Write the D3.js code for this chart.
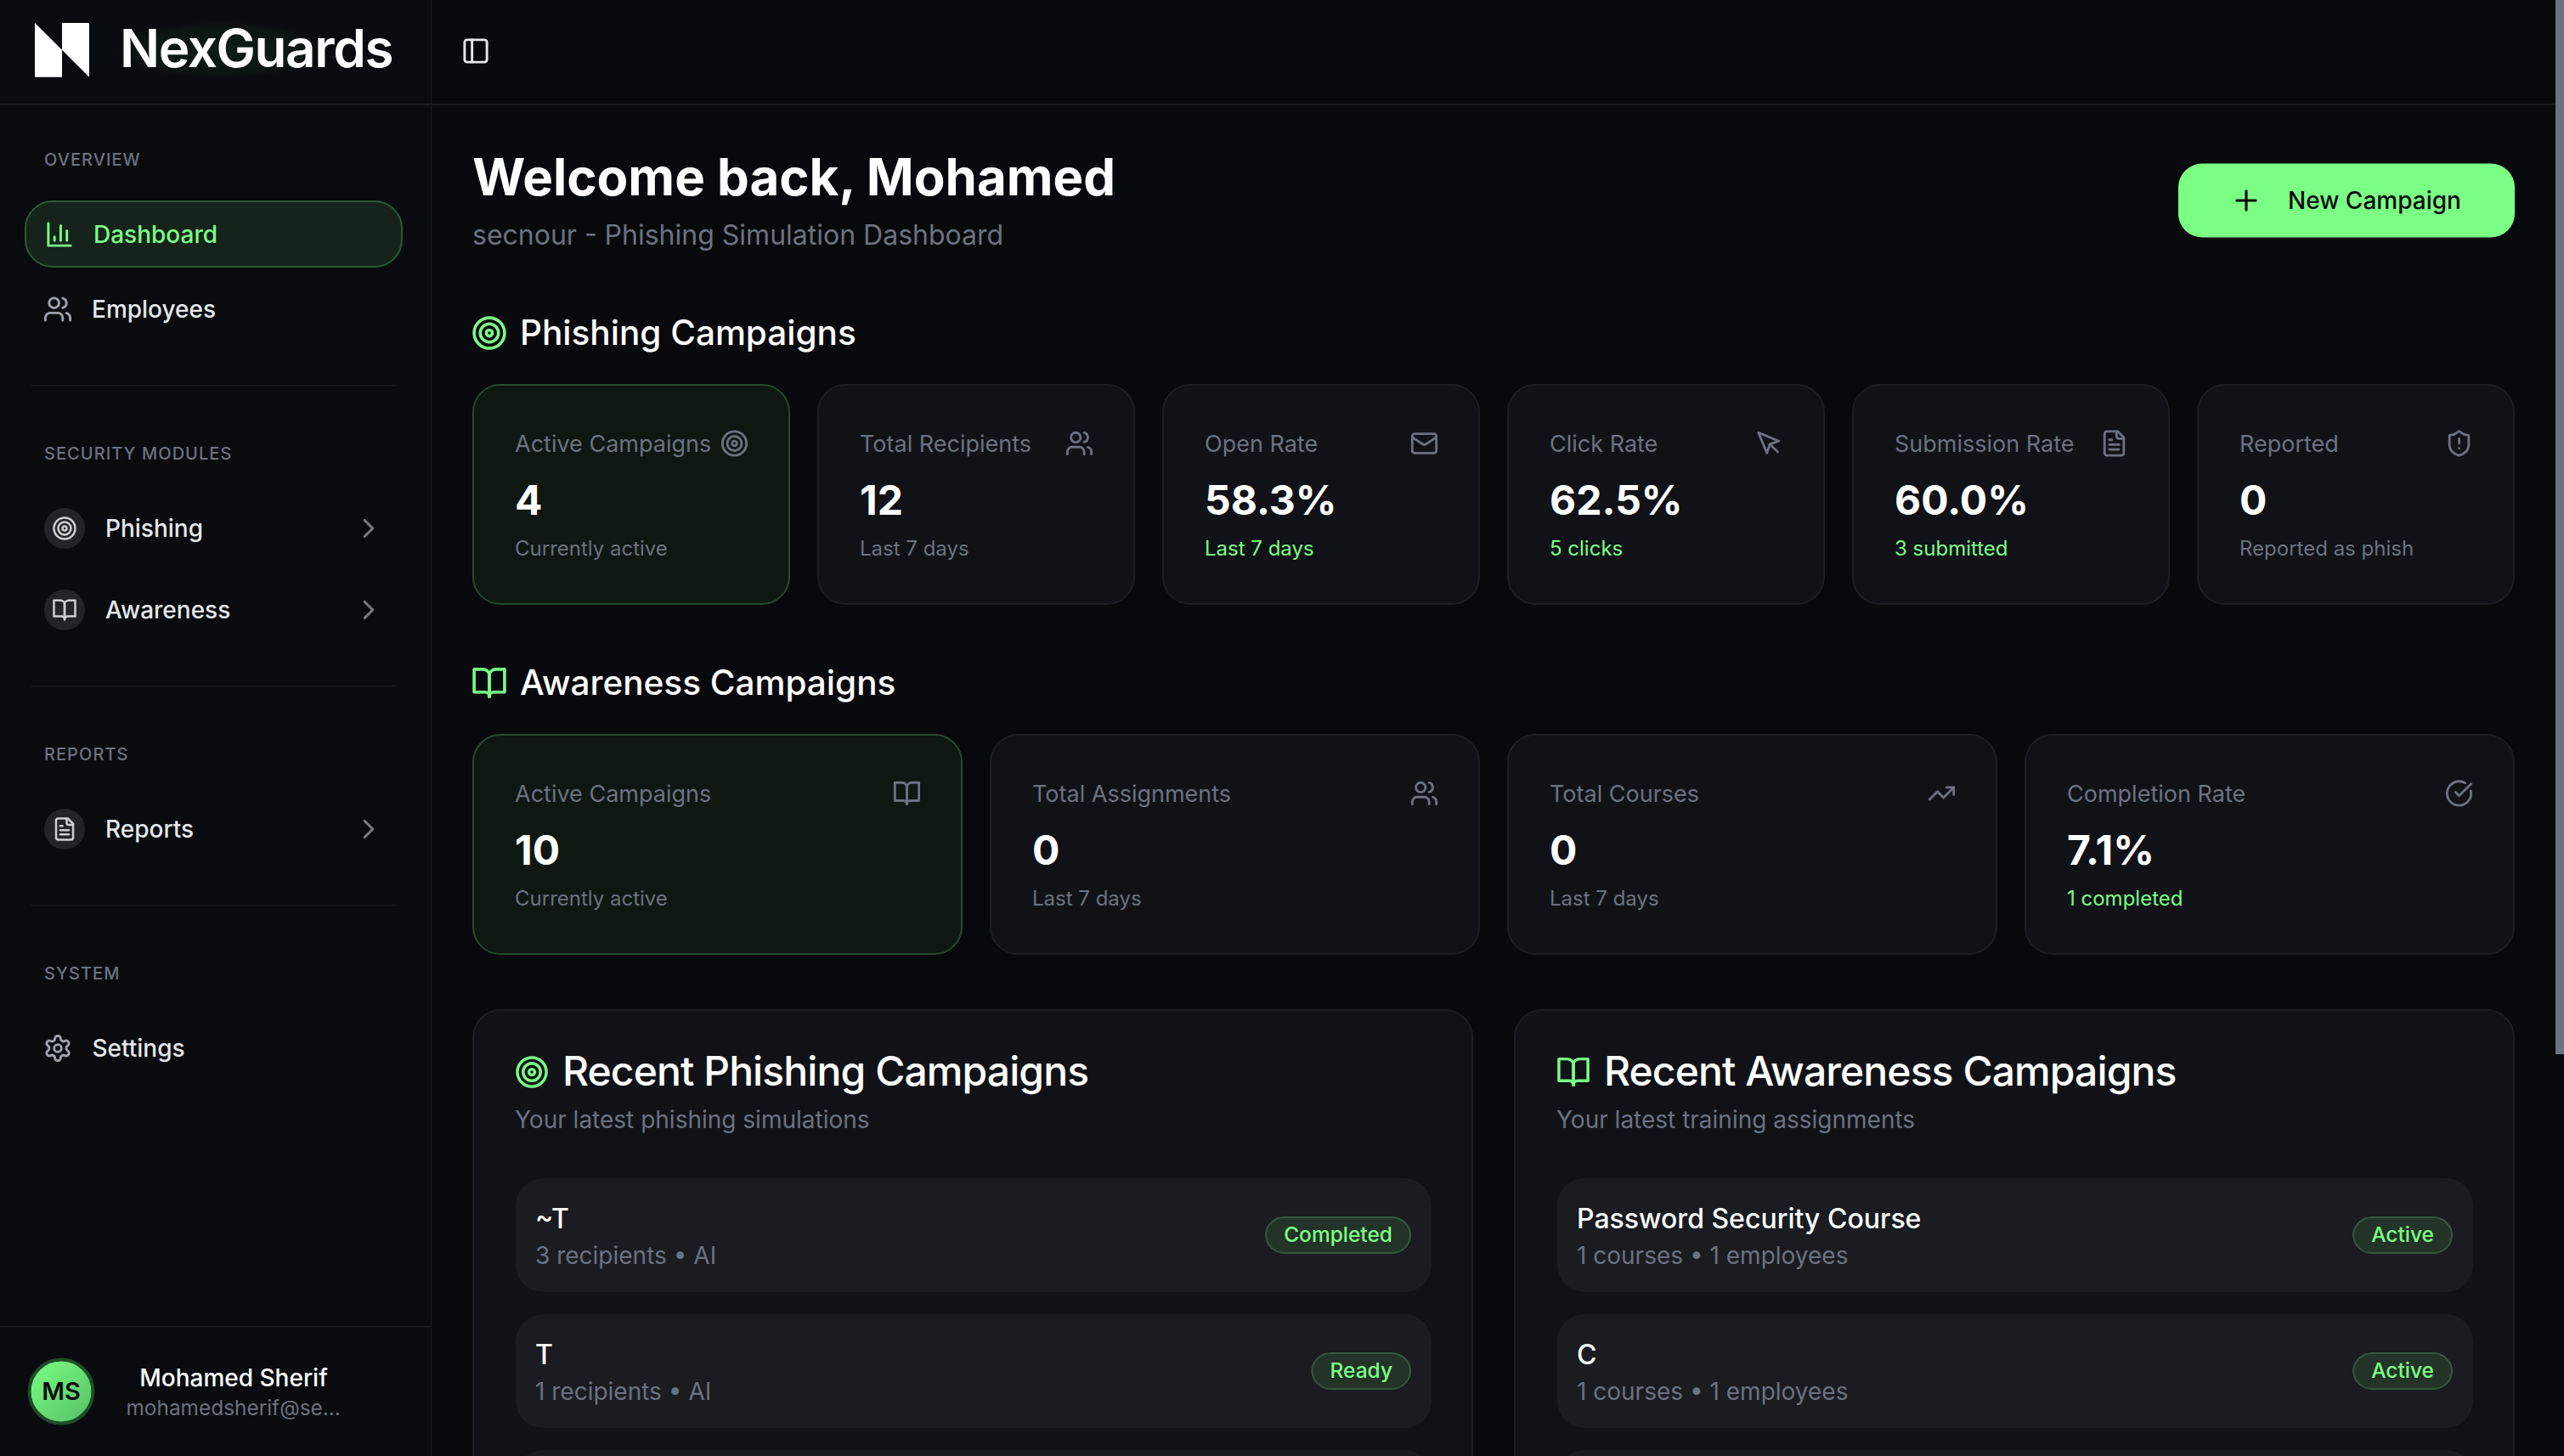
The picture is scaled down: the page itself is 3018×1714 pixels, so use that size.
<!DOCTYPE html>
<html><head><meta charset="utf-8">
<script src="https://cdn.jsdelivr.net/npm/d3@7/dist/d3.min.js"></script>
<style>
html,body{margin:0;padding:0;background:#08090c;overflow:hidden}
svg{display:block}
text{font-family:Inter,"Noto Sans",sans-serif}
</style></head><body>
<svg id="c" width="3018" height="1714" viewBox="0 0 3018 1714"></svg>
<script>
// ---------- data ----------
const phishingLabels = ["Active Campaigns","Total Recipients","Open Rate","Click Rate","Submission Rate","Reported"];
const phishingValues = ["4","12","58.3%","62.5%","60.0%","0"];
const phishingNotes  = ["Currently active","Last 7 days","Last 7 days","5 clicks","3 submitted","Reported as phish"];
const phishingIcons  = ["target","users","mail","pointer","file","shield"];
const phishingNoteGreen = [false,false,true,true,true,false];

const awarenessLabels = ["Active Campaigns","Total Assignments","Total Courses","Completion Rate"];
const awarenessValues = ["10","0","0","7.1%"];
const awarenessNotes  = ["Currently active","Last 7 days","Last 7 days","1 completed"];
const awarenessIcons  = ["book","users","trend","check"];
const awarenessNoteGreen = [false,false,false,true];

const recentPhishingNames = ["~T","T"];
const recentPhishingMeta  = ["3 recipients • AI","1 recipients • AI"];
const recentPhishingState = ["Completed","Ready"];
const recentAwarenessNames = ["Password Security Course","C"];
const recentAwarenessMeta  = ["1 courses • 1 employees","1 courses • 1 employees"];
const recentAwarenessState = ["Active","Active"];

// ---------- palette ----------
const GREEN="#7bff85", MUTED="#6b7280", NAV="#e5e7eb", WHITE="#ffffff";
const BORDER="#1a1c21", CARD="#101217", CARD_B="#1c1e24", ROW="#1a1c21";

// ---------- icons (24-unit outlines) ----------
const ICONS={
 target:[["c",12,12,10],["c",12,12,6],["c",12,12,2]],
 users:[["p","M16 21v-2a4 4 0 0 0-4-4H6a4 4 0 0 0-4 4v2"],["c",9,7,4],["p","M22 21v-2a4 4 0 0 0-3-3.87"],["p","M16 3.13a4 4 0 0 1 0 7.75"]],
 mail:[["r",2,4,20,16,2],["p","m22 7-8.97 5.7a1.94 1.94 0 0 1-2.06 0L2 7"]],
 pointer:[["p","m3 3 7.07 16.97 2.51-7.39 7.39-2.51L3 3z"],["p","m13 13 6 6"]],
 file:[["p","M15 2H6a2 2 0 0 0-2 2v16a2 2 0 0 0 2 2h12a2 2 0 0 0 2-2V7Z"],["p","M14 2v4a2 2 0 0 0 2 2h4"],["p","M10 9H8"],["p","M16 13H8"],["p","M16 17H8"]],
 shield:[["p","M20 13c0 5-3.5 7.5-7.66 8.95a1 1 0 0 1-.67-.01C7.5 20.5 4 18 4 13V6a1 1 0 0 1 1-1c2 0 4.5-1.2 6.24-2.72a1.17 1.17 0 0 1 1.52 0C14.51 3.81 17 5 19 5a1 1 0 0 1 1 1z"],["p","M12 8v4"],["p","M12 16h.01"]],
 book:[["p","M2 3h6a4 4 0 0 1 4 4v14a3 3 0 0 0-3-3H2z"],["p","M22 3h-6a4 4 0 0 0-4 4v14a3 3 0 0 1 3-3h7z"]],
 trend:[["p","m22 7-8.5 8.5-5-5L2 17"],["p","M16 7h6v6"]],
 check:[["p","M21.801 10A10 10 0 1 1 17 3.335"],["p","m9 11 3 3L22 4"]],
 chart:[["p","M3 3v18h18"],["p","M18 17V9"],["p","M13 17V5"],["p","M8 17v-3"]],
 settings:[["p","M12.22 2h-.44a2 2 0 0 0-2 2v.18a2 2 0 0 1-1 1.73l-.43.25a2 2 0 0 1-2 0l-.15-.08a2 2 0 0 0-2.73.73l-.22.38a2 2 0 0 0 .73 2.73l.15.1a2 2 0 0 1 1 1.72v.51a2 2 0 0 1-1 1.74l-.15.09a2 2 0 0 0-.73 2.73l.22.38a2 2 0 0 0 2.73.73l.15-.08a2 2 0 0 1 2 0l.43.25a2 2 0 0 1 1 1.73V20a2 2 0 0 0 2 2h.44a2 2 0 0 0 2-2v-.18a2 2 0 0 1 1-1.73l.43-.25a2 2 0 0 1 2 0l.15.08a2 2 0 0 0 2.73-.73l.22-.39a2 2 0 0 0-.73-2.73l-.15-.08a2 2 0 0 1-1-1.74v-.5a2 2 0 0 1 1-1.74l.15-.09a2 2 0 0 0 .73-2.73l-.22-.38a2 2 0 0 0-2.73-.73l-.15.08a2 2 0 0 1-2 0l-.43-.25a2 2 0 0 1-1-1.73V4a2 2 0 0 0-2-2z"],["c",12,12,3]],
 chevron:[["p","m9 18 6-6-6-6"]],
 plus:[["p","M5 12h14"],["p","M12 5v14"]],
 panel:[["r",3,3,18,18,2],["p","M9 3v18"]]
};
const svg=d3.select("#c");
function icon(parent,name,cx,cy,size,color,sw=2){
  const s=size/24;
  const g=parent.append("g").attr("transform",`translate(${cx-size/2},${cy-size/2}) scale(${s})`)
    .attr("fill","none").attr("stroke",color).attr("stroke-width",sw)
    .attr("stroke-linecap","round").attr("stroke-linejoin","round");
  ICONS[name].forEach(d=>{
    if(d[0]==="c") g.append("circle").attr("cx",d[1]).attr("cy",d[2]).attr("r",d[3]);
    else if(d[0]==="r") g.append("rect").attr("x",d[1]).attr("y",d[2]).attr("width",d[3]).attr("height",d[4]).attr("rx",d[5]);
    else g.append("path").attr("d",d[1]);
  });
}
function txt(parent,s,x,y,size,weight,color,extra={}){
  const t=parent.append("text").attr("x",x).attr("y",y).attr("font-size",size).attr("font-weight",weight).attr("fill",color).text(s);
  if(extra.ls!==undefined) t.attr("letter-spacing",extra.ls);
  if(extra.anchor) t.attr("text-anchor",extra.anchor);
  return t;
}
function box(parent,x,y,w,h,r,fill,stroke,sw=2){
  return parent.append("rect").attr("x",x+sw/2).attr("y",y+sw/2).attr("width",w-sw).attr("height",h-sw).attr("rx",r)
    .attr("fill",fill).attr("stroke",stroke||"none").attr("stroke-width",stroke?sw:0);
}

// ---------- defs ----------
const defs=svg.append("defs");
const avatarGrad=defs.append("linearGradient").attr("id","avatarGrad").attr("x1",0).attr("y1",0).attr("x2",1).attr("y2",1);
avatarGrad.append("stop").attr("offset",0).attr("stop-color","#7bff85");
avatarGrad.append("stop").attr("offset",1).attr("stop-color","#55bf63");
const glow=defs.append("radialGradient").attr("id","glow");
glow.append("stop").attr("offset",0).attr("stop-color","#10251a").attr("stop-opacity",.75);
glow.append("stop").attr("offset",.75).attr("stop-color","#0f1f15").attr("stop-opacity",.5);
glow.append("stop").attr("offset",1).attr("stop-color","#0a0c0e").attr("stop-opacity",0);

// ---------- page frame ----------
svg.append("rect").attr("width",3018).attr("height",1714).attr("fill","#08090c");
svg.append("rect").attr("width",507).attr("height",1714).attr("fill","#090b0e");
svg.append("rect").attr("x",507).attr("width",1).attr("height",1714).attr("fill",BORDER);
svg.append("rect").attr("y",122).attr("width",3008).attr("height",2).attr("fill",BORDER);
svg.append("rect").attr("x",3008).attr("width",10).attr("height",1241).attr("fill","#6b7280");

// ---------- brand ----------
svg.append("ellipse").attr("cx",260).attr("cy",59).attr("rx",135).attr("ry",37).attr("fill","url(#glow)");
svg.append("path").attr("d","M41 27L73 58.8V90.7H41Z M73 27H105V90.7L73 58.8Z").attr("fill",WHITE);
txt(svg,"NexGuards",141,79,62,600,WHITE,{ls:-1.4});
icon(svg,"panel",560,60,35,NAV);

// ---------- sidebar ----------
const navText=(s,x,base,color=NAV)=>txt(svg,s,x,base,28,500,color);
const secText=(s,base)=>txt(svg,s,52,base,20,500,MUTED,{ls:1.05});
secText("OVERVIEW",195);
box(svg,29,236,445,79,32,"#16231b","#2b5a34",2);
icon(svg,"chart",70,276,35,GREEN);
navText("Dashboard",110,286,GREEN);
icon(svg,"users",68,364,35,"#9ca3af");
navText("Employees",108,374);
const divider=y=>svg.append("rect").attr("x",36).attr("y",y).attr("width",430).attr("height",1.5).attr("fill","#15171b");
divider(453);
secText("SECURITY MODULES",541);
[["Phishing","target",622],["Awareness","book",718],["Reports","file",976]].forEach(([s,ic,y])=>{
  svg.append("circle").attr("cx",76).attr("cy",y).attr("r",24).attr("fill","#232427");
  icon(svg,ic,76,y,30,"#cfcfcf");
  navText(s,124,y+10);
  icon(svg,"chevron",434,y,38,"#7a7a7a");
});
divider(807);
secText("REPORTS",895);
divider(1065);
secText("SYSTEM",1153);
icon(svg,"settings",68,1234,35,"#9ca3af");
navText("Settings",108.5,1244);
svg.append("rect").attr("y",1561).attr("width",507).attr("height",1.5).attr("fill",BORDER);
svg.append("circle").attr("cx",72).attr("cy",1638).attr("r",37.5).attr("fill","url(#avatarGrad)").attr("stroke","#1f4a28").attr("stroke-width",4);
txt(svg,"MS",72,1648,29,600,"#0a0b0e",{anchor:"middle"});
txt(svg,"Mohamed Sherif",275,1632,28,500,WHITE,{anchor:"middle"});
txt(svg,"mohamedsherif@se...",148.5,1666,24.4,400,MUTED);

// ---------- header ----------
txt(svg,"Welcome back, Mohamed",556,230,60,700,WHITE);
txt(svg,"secnour - Phishing Simulation Dashboard",556,288,32,400,MUTED);
box(svg,2563,191.5,398,89,28,GREEN);
icon(svg,"plus",2644,236,38,"#0a0b0e");
txt(svg,"New Campaign",2693,246,28,500,"#0a0b0e");

// ---------- KPI rows ----------
function kpiRow(top,labels,values,notes,icons,green){
  const n=labels.length, x=d3.scaleBand().domain(d3.range(n)).range([556,2960]).paddingInner(32*n/2436).paddingOuter(0);
  const g=svg.append("g");
  labels.forEach((l,i)=>{
    const X=x(i), W=x.bandwidth(), active=i===0;
    box(g,X,top,W,260,32,active?"#0e1712":CARD,active?"#254a2c":CARD_B,2);
    txt(g,l,X+50,top+80,27,400,MUTED);
    icon(g,icons[i],X+W-65.5,top+70,34,MUTED);
    txt(g,values[i],X+50,top+154,48,700,WHITE);
    txt(g,notes[i],X+50,top+202,24,400,green[i]?GREEN:MUTED);
  });
}
icon(svg,"target",576,392,43,GREEN);
txt(svg,"Phishing Campaigns",612,406,40.5,500,WHITE);
kpiRow(452,phishingLabels,phishingValues,phishingNotes,phishingIcons,phishingNoteGreen);
icon(svg,"book",576,804,43,GREEN);
txt(svg,"Awareness Campaigns",612,818,40.5,500,WHITE);
kpiRow(864,awarenessLabels,awarenessValues,awarenessNotes,awarenessIcons,awarenessNoteGreen);

// ---------- recent panels ----------
function panel(px,ic,title,sub,names,meta,state){
  const W=1178, g=svg.append("g");
  box(g,px,1188,W,600,32,CARD,CARD_B,2);
  icon(g,ic,px+70,1262,41,GREEN);
  txt(g,title,px+106,1278,48,500,WHITE,{ls:-.9});
  txt(g,sub,px+50,1327.5,28,400,MUTED);
  const y=d3.scaleBand().domain(d3.range(3)).range([1386,1386+160*3-24]).paddingInner(24/160).paddingOuter(0);
  [0,1,2].forEach(i=>{
    box(g,px+50,y(i),W-98,y.bandwidth(),32,ROW);
    if(i>=names.length) return;
    txt(g,names[i],px+74,y(i)+60,32,500,WHITE);
    txt(g,meta[i],px+74,y(i)+102,28,400,MUTED);
    const t=txt(g,state[i],0,y(i)+76,24.5,500,GREEN,{anchor:"middle"});
    const tw=t.node().getComputedTextLength(), bw=tw+44, right=px+W-73;
    box(g,right-bw,y(i)+46,bw,44,22,"#243328","#35593c",2);
    t.attr("x",right-bw/2).raise();
  });
}
panel(556,"target","Recent Phishing Campaigns","Your latest phishing simulations",recentPhishingNames,recentPhishingMeta,recentPhishingState);
panel(1782,"book","Recent Awareness Campaigns","Your latest training assignments",recentAwarenessNames,recentAwarenessMeta,recentAwarenessState);
</script></body></html>
